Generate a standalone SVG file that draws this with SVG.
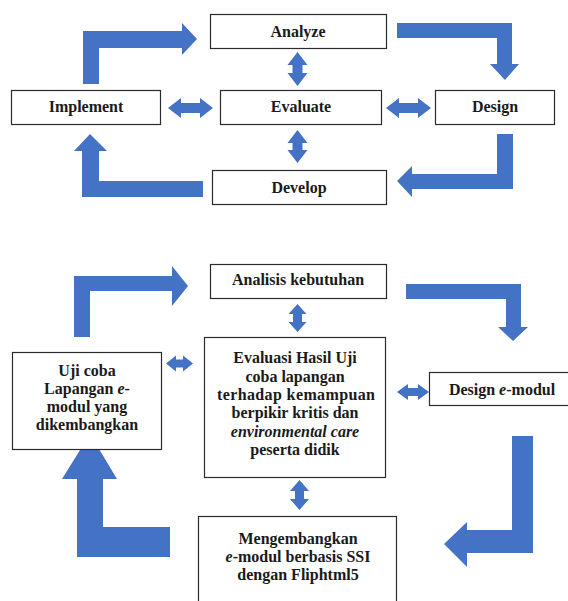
<svg xmlns="http://www.w3.org/2000/svg" width="568" height="601" viewBox="0 0 568 601">
<style>
.box{fill:#fff;stroke:#2b2b2b;stroke-width:1.2}
.arr{fill:#4472C4}
text{font-family:"Liberation Serif","Times New Roman",serif;font-weight:bold;font-size:16px;fill:#1a1a1a;text-anchor:middle}
.it{font-style:italic}
</style>
<rect width="568" height="601" fill="#fff"/>
<g id="connectors">
<polygon class="arr" points="83,84 83,31 182,31 182,23 197,39 182,55 182,48 99,48 99,84"/>
<polygon class="arr" points="397,23 512,23 512,64 519,64 505,80 490,64 497,64 497,38 397,38"/>
<polygon class="arr" points="497,134 513,134 513,189 412,189 412,197 397,181 412,166 412,174 497,174"/>
<polygon class="arr" points="203,181 203,197 82,197 82,151 74,151 90,134 107,151 99,151 99,181"/>
<polygon class="arr" points="168,108 181,98 181,103 200,103 200,98 213,108 200,118 200,113 181,113 181,118"/>
<polygon class="arr" points="386,108 399,98 399,103 418,103 418,98 431,108 418,118 418,113 399,113 399,118"/>
<polygon class="arr" points="297.5,52 307.5,65 302.5,65 302.5,73 307.5,73 297.5,86 287.5,73 292.5,73 292.5,65 287.5,65"/>
<polygon class="arr" points="297.5,130 307.5,143 302.5,143 302.5,150 307.5,150 297.5,163 287.5,150 292.5,150 292.5,143 287.5,143"/>
<polygon class="arr" points="74,337 74,276 172,276 172,266 188,286 172,306 172,291 90,291 90,337"/>
<polygon class="arr" points="406,284 521,284 521,327 528,327 513,341 498,327 506,327 506,299 406,299"/>
<polygon class="arr" points="512,436 533,436 533,553 467,553 467,567 444,544 467,522 467,530 512,530"/>
<polygon class="arr" points="170,527 170,557 77,557 77,479 62,479 90,434 117,479 103,479 103,527"/>
<polygon class="arr" points="166,363.5 176,355.5 176,359.5 183,359.5 183,355.5 193,363.5 183,371.5 183,367.5 176,367.5 176,371.5"/>
<polygon class="arr" points="397,392 408,384 408,388 418,388 418,384 429,392 418,400 418,396 408,396 408,400"/>
<polygon class="arr" points="297.5,304 306.5,314 302,314 302,322 306.5,322 297.5,332 288.5,322 293,322 293,314 288.5,314"/>
<polygon class="arr" points="299.5,480 309,491 304,491 304,499 309,499 299.5,510 290,499 295,499 295,491 290,491"/>
</g>
<g id="analyze"><rect class="box" x="210.5" y="14.5" width="176" height="34"/><text x="298" y="37">Analyze</text></g>
<g id="implement"><rect class="box" x="11.5" y="90.5" width="149" height="34"/><text x="86" y="112">Implement</text></g>
<g id="evaluate"><rect class="box" x="220.5" y="90.5" width="161" height="34"/><text x="301" y="112">Evaluate</text></g>
<g id="design"><rect class="box" x="435.5" y="90.5" width="119" height="34"/><text x="495" y="112">Design</text></g>
<g id="develop"><rect class="box" x="212.5" y="170.5" width="174" height="34"/><text x="299" y="193">Develop</text></g>
<g id="analisis"><rect class="box" x="210.5" y="264.5" width="176" height="34"/><text x="298" y="285">Analisis kebutuhan</text></g>
<g id="ujicoba"><rect class="box" x="12.5" y="352.5" width="149" height="97"/>
<text x="87" y="376">Uji coba</text>
<text x="87" y="394">Lapangan <tspan class="it">e</tspan>-</text>
<text x="87" y="412">modul yang</text>
<text x="87" y="430">dikembangkan</text></g>
<g id="evaluasi"><rect class="box" x="204.5" y="337.5" width="181" height="140"/>
<text x="295" y="363">Evaluasi Hasil Uji</text>
<text x="295" y="381.5">coba lapangan</text>
<text x="296" y="400" textLength="158" lengthAdjust="spacing">terhadap kemampuan</text>
<text x="295" y="418">berpikir kritis dan</text>
<text x="295" y="436.5" class="it">environmental care</text>
<text x="295" y="455">peserta didik</text></g>
<g id="design-emodul"><rect class="box" x="429.5" y="372.5" width="150" height="33"/><text x="502" y="395"><tspan>Design </tspan><tspan class="it">e</tspan><tspan>-modul</tspan></text></g>
<g id="mengembangkan"><rect class="box" x="198.5" y="516.5" width="198" height="95"/>
<text x="298" y="544">Mengembangkan</text>
<text x="298" y="562"><tspan class="it">e</tspan>-modul berbasis SSI</text>
<text x="298" y="580">dengan Fliphtml5</text></g>
</svg>
